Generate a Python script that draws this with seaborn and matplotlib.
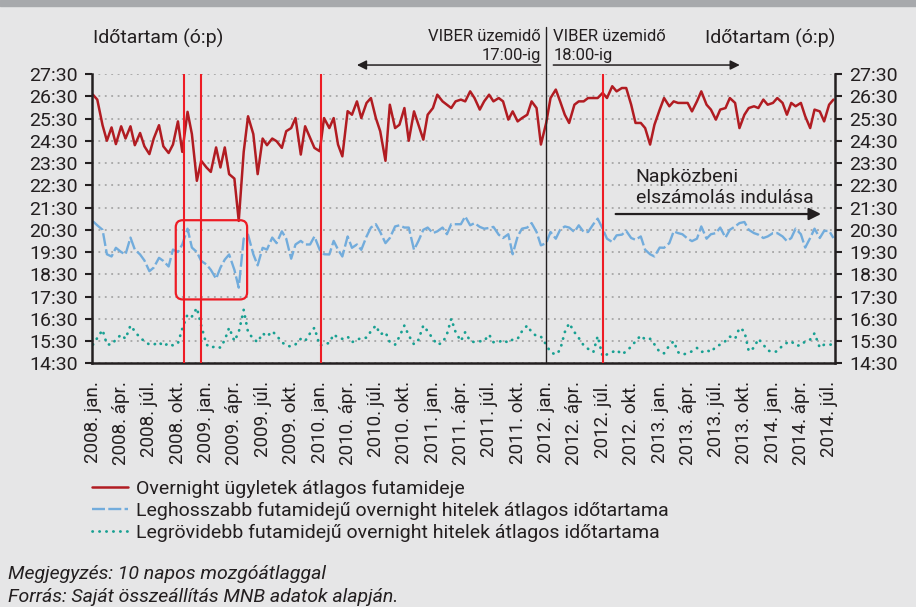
import numpy as np
import pandas as pd
import matplotlib
matplotlib.use('Agg')
import matplotlib.pyplot as plt
import matplotlib.dates as mdates
import matplotlib.patches as mpatches
from matplotlib.ticker import FuncFormatter
import seaborn as sns

# semi-monthly readings (1st and 15th of each month), values in hours
dates = pd.date_range('2008-01-01', periods=158, freq='SMS')

overnight = [
    26.57, 26.35, 25.2, 24.5, 25.1, 24.35, 25.15, 24.6, 25.15, 24.3, 24.85, 24.25, 23.9,
    24.6, 25.2, 24.25, 23.95, 24.33, 25.37, 24.0, 25.8, 24.8, 22.7, 23.6, 23.3, 23.1,
    24.2, 23.3, 24.2, 23.0, 22.8, 20.9, 24.0, 25.6, 24.8, 23.0, 24.6, 24.3, 24.6,
    24.48, 24.18, 24.93, 25.07, 25.52, 23.88, 25.15, 24.63, 24.18, 24.03, 25.52, 25.07,
    25.52, 24.33, 23.8, 25.83, 25.67, 26.27, 25.52, 26.2, 26.42, 25.52, 24.93, 23.6,
    26.12, 25.07, 25.22, 25.97, 24.5, 25.82, 25.22, 24.55, 25.67, 25.97, 26.57, 26.27,
    26.12, 25.97, 26.27, 26.35, 26.27,
    26.72, 26.42, 25.9, 26.27, 26.57, 26.27, 26.42, 26.27, 25.45, 25.82, 25.37, 25.52,
    25.67, 26.27, 25.97, 24.33, 25.3, 26.42, 26.8, 26.27, 25.67, 25.3, 26.12, 26.27,
    26.27, 26.42, 26.42, 26.42, 26.65, 26.42, 26.95, 26.72, 26.87, 26.87, 26.12, 25.3,
    25.3, 25.07, 24.33, 25.22,
    25.9, 26.42, 26.05, 26.27, 26.2, 26.2, 26.2, 25.82, 26.27, 26.72, 26.12, 25.9, 25.45,
    25.9, 25.97, 26.42, 26.2, 25.07, 25.67, 25.97, 26.05, 25.97, 26.35, 26.12, 26.2,
    26.42, 26.2, 25.67, 26.2, 26.05, 26.2, 25.6, 25.07, 25.9, 25.82, 25.37, 26.12, 26.35,
]

longest = [
    20.88, 20.7, 20.5, 19.4, 19.3, 19.69, 19.5, 19.39, 20.15, 19.61, 19.39, 19.12, 18.64,
    18.8, 19.24, 19.1, 18.85, 19.61, 19.5, 19.84, 20.55, 19.7, 19.5, 19.1, 18.94, 18.7,
    18.3, 18.8, 19.16, 19.39, 18.7, 17.9, 20.1, 20.28, 19.4, 18.9, 19.69, 19.61, 20.15,
    19.9, 20.43, 20.1, 19.2, 19.84, 20.0, 19.84, 19.84, 20.2, 19.6, 19.4, 19.39, 20.0,
    19.61, 19.3, 20.2, 19.69, 19.84, 19.6, 20.2, 20.6, 20.75, 20.4, 19.9, 20.13, 20.65,
    20.7, 20.6, 20.6, 19.6, 19.99, 20.5, 20.6, 20.35, 20.43, 20.6, 20.3, 20.75, 20.75,
    20.75, 21.1,
    20.7, 20.8, 20.63, 20.55, 20.58, 20.63, 20.28, 20.13, 20.3, 19.4, 20.2, 20.55, 20.6,
    20.8, 20.4, 19.8, 19.9, 20.4, 20.1, 20.5, 20.65, 20.6, 20.4, 20.7, 20.4, 20.4, 20.75,
    21.0, 20.55, 20.1, 19.95, 20.25, 20.28, 20.45, 20.13, 20.05, 20.2, 19.6, 19.4, 19.3,
    19.7, 19.69, 19.9, 20.43, 20.35, 20.3, 20.1, 19.99, 20.1, 20.65, 20.1, 20.3, 20.35,
    20.6, 20.15, 20.5, 20.65, 20.8, 20.85, 20.5, 20.35, 20.28, 20.13, 20.2, 20.35, 20.35,
    20.2, 19.99, 20.13, 20.55, 20.3, 19.7, 20.13, 20.55, 20.13, 20.45, 20.45, 20.13,
]

shortest = [
    15.34, 15.64, 16.0, 15.35, 15.34, 15.57, 15.79, 15.6, 16.2, 15.94, 15.64, 15.5, 15.34,
    15.34, 15.45, 15.27, 15.4, 15.3, 15.4, 16.05, 16.7, 16.6, 16.99, 16.2, 15.34, 15.2,
    15.27, 15.2, 15.55, 16.1, 15.5, 15.9, 16.9, 15.9, 15.6, 15.45, 15.85, 15.7, 15.94,
    15.75, 15.45, 15.3, 15.25, 15.35, 15.6, 15.5, 15.85, 16.1, 15.3, 15.34, 15.42, 15.8,
    15.65, 15.6, 15.7, 15.45, 15.55, 15.64, 15.65, 15.94, 16.2, 15.8, 15.9, 15.45, 15.34,
    15.7, 16.2, 15.75, 15.35, 15.55, 16.2, 15.94, 15.6, 15.34, 15.42, 15.8, 16.5, 15.9,
    15.5, 15.9,
    15.5, 15.45, 15.49, 15.5, 15.79, 15.45, 15.45, 15.55, 15.42, 15.57, 15.6, 15.94, 16.2,
    15.9, 15.72, 15.7, 15.34, 15.0, 14.89, 15.1, 15.9, 16.3, 15.9, 15.64, 15.3, 15.15,
    15.0, 15.72, 14.8, 14.9, 15.0, 15.1, 14.9, 15.04, 15.25, 15.49, 15.75, 15.57, 15.6,
    15.35,
    15.0, 14.95, 15.3, 15.49, 15.0, 14.89, 14.95, 15.04, 15.19, 15.0, 15.1, 15.0, 15.25,
    15.34, 15.5, 15.7, 15.6, 16.09, 15.94, 15.04, 15.2, 15.6, 15.34, 15.08, 15.0, 15.04,
    15.3, 15.42, 15.49, 15.3, 15.3, 15.49, 15.57, 15.85, 15.2, 15.34, 15.34, 15.34,
]

series_labels = [
    'Overnight ügyletek átlagos futamideje',
    'Leghosszabb futamidejű overnight hitelek átlagos időtartama',
    'Legrövidebb futamidejű overnight hitelek átlagos időtartama',
]

hu_months = {1: 'jan.', 4: 'ápr.', 7: 'júl.', 10: 'okt.'}
quarter_ticks = pd.date_range('2008-01-01', '2014-07-01', freq='QS')
quarter_labels = [f'{d.year}. {hu_months[d.month]}' for d in quarter_ticks]

red_lines = ['2008-10-22', '2008-12-15', '2010-01-04', '2012-07-01']
viber_change = '2012-01-02'

BG = '#e6e6e7'
TXT = '#231f20'
RED = '#b11c22'
BLUE = '#72acdc'
TEAL = '#18a092'
VRED = '#ee1c25'

sns.set_theme(style='white')
plt.rcParams['font.family'] = ['Roboto', 'DejaVu Sans']
plt.rcParams['text.color'] = TXT

df = pd.DataFrame({'date': dates, 'overnight': overnight,
                   'longest': longest, 'shortest': shortest})

fig = plt.figure(figsize=(9.16, 6.07), dpi=100, facecolor=BG)
fig.patches.append(mpatches.Rectangle((0, 1 - 6 / 607), 1, 6 / 607,
                                      transform=fig.transFigure,
                                      color='#a7a9ac', zorder=0))
ax = fig.add_axes([92 / 916, (607 - 363.3) / 607, 743 / 916, 289.3 / 607])
ax.set_facecolor(BG)

sns.lineplot(data=df, x='date', y='overnight', ax=ax, color=RED, lw=1.8,
             estimator=None, label=series_labels[0], zorder=2)
sns.lineplot(data=df, x='date', y='longest', ax=ax, color=BLUE, lw=1.7,
             estimator=None, label=series_labels[1], linestyle=(0, (5.5, 1.4)),
             zorder=2)
sns.lineplot(data=df, x='date', y='shortest', ax=ax, color=TEAL, lw=2.0,
             estimator=None, label=series_labels[2], linestyle=(0, (0.1, 2.4)),
             dash_capstyle='round', zorder=2)

x0 = pd.Timestamp('2007-12-29')
x1 = pd.Timestamp('2014-07-20')
ax.set_xlim(x0, x1)
ax.set_ylim(14.5, 27.5)
ax.set_xlabel('')
ax.set_ylabel('')

ax.set_yticks(np.arange(14.5, 27.6, 1.0))
ax.yaxis.set_major_formatter(FuncFormatter(
    lambda v, p: f'{int(v)}:{int(round((v % 1) * 60)):02d}'))
ax.set_xticks(quarter_ticks)
ax.set_xticklabels(quarter_labels)

ax.yaxis.grid(True, linestyle=(0, (1.2, 3)), color='#9b9b9b', lw=1.1)
ax.xaxis.grid(False)

ax.tick_params(axis='x', direction='out', length=6, width=1.5, pad=7,
               labelsize=13.5, labelrotation=90, colors=TXT)
ax.tick_params(axis='y', left=True, right=True, labelleft=True, labelright=True,
               direction='out', length=5, width=1.5, pad=5, labelsize=14,
               colors=TXT)
ax.spines['top'].set_visible(False)
for s in ['left', 'right', 'bottom']:
    ax.spines[s].set_linewidth(1.8)
    ax.spines[s].set_color(TXT)

# event markers
for d in red_lines:
    ax.axvline(pd.Timestamp(d), color=VRED, lw=1.5, zorder=3)
ax.axvline(pd.Timestamp(viber_change), ymin=0, ymax=1.162, clip_on=False,
           color=TXT, lw=1.0, zorder=3)

# highlight box around the 2008-09 crisis period
xl = mdates.date2num(x0)
xr = mdates.date2num(x1)
bx0 = (mdates.date2num(pd.Timestamp('2008-09-24')) - xl) / (xr - xl)
bx1 = (mdates.date2num(pd.Timestamp('2009-05-12')) - xl) / (xr - xl)
by0 = (17.37 - 14.5) / 13
by1 = (20.93 - 14.5) / 13
ax.add_patch(mpatches.FancyBboxPatch(
    (bx0, by0), bx1 - bx0, by1 - by0,
    boxstyle='round,pad=0,rounding_size=0.0095', mutation_aspect=743 / 289.3,
    transform=ax.transAxes, fill=False, ec=VRED, lw=1.6, zorder=4))

# VIBER annotations
left_end = pd.Timestamp('2011-12-14')
right_start = pd.Timestamp('2012-01-24')
ax.annotate('', xy=(pd.Timestamp('2010-05-01'), 1.031), xycoords=('data', 'axes fraction'),
            xytext=(left_end, 1.031), textcoords=('data', 'axes fraction'),
            arrowprops=dict(arrowstyle='-|>', color=TXT, lw=1.1,
                            mutation_scale=14, shrinkA=0, shrinkB=0))
ax.annotate('', xy=(pd.Timestamp('2013-09-16'), 1.031), xycoords=('data', 'axes fraction'),
            xytext=(right_start, 1.031), textcoords=('data', 'axes fraction'),
            arrowprops=dict(arrowstyle='-|>', color=TXT, lw=1.1,
                            mutation_scale=14, shrinkA=0, shrinkB=0))
trans = ax.get_xaxis_transform()
ax.text(left_end, 1.114, 'VIBER üzemidő', transform=trans, ha='right',
        va='baseline', fontsize=12)
ax.text(left_end, 1.047, '17:00-ig', transform=trans, ha='right',
        va='baseline', fontsize=12)
ax.text(right_start, 1.114, 'VIBER üzemidő', transform=trans, ha='left',
        va='baseline', fontsize=12)
ax.text(right_start, 1.047, '18:00-ig', transform=trans, ha='left',
        va='baseline', fontsize=12)

# intraday settlement annotation
ax.annotate('', xy=(pd.Timestamp('2014-06-05'), 0.516), xycoords=('data', 'axes fraction'),
            xytext=(pd.Timestamp('2012-08-12'), 0.516), textcoords=('data', 'axes fraction'),
            arrowprops=dict(arrowstyle='-|>', color=TXT, lw=1.6,
                            mutation_scale=18, shrinkA=0, shrinkB=0))
ax.text(pd.Timestamp('2012-10-16'), 0.627, 'Napközbeni', transform=trans,
        ha='left', va='baseline', fontsize=14)
ax.text(pd.Timestamp('2012-10-16'), 0.554, 'elszámolás indulása', transform=trans,
        ha='left', va='baseline', fontsize=14)

# axis titles
fig.text(93 / 916, 1 - 44 / 607, 'Időtartam (ó:p)', ha='left', va='baseline',
         fontsize=14)
fig.text(835 / 916, 1 - 44 / 607, 'Időtartam (ó:p)', ha='right', va='baseline',
         fontsize=14)

handles, labels = ax.get_legend_handles_labels()
ax.legend(handles, labels, loc='upper left', bbox_to_anchor=(92 / 916, 1 - 480 / 607),
          bbox_transform=fig.transFigure, frameon=False, fontsize=14,
          handlelength=1.85, handletextpad=0.4, labelspacing=0.19,
          borderpad=0, borderaxespad=0)

fig.text(8 / 916, 1 - 579 / 607, 'Megjegyzés: 10 napos mozgóátlaggal',
         ha='left', va='baseline', fontsize=14, style='italic')
fig.text(8 / 916, 1 - 602 / 607, 'Forrás: Saját összeállítás MNB adatok alapján.',
         ha='left', va='baseline', fontsize=14, style='italic')

fig.savefig('out.png', dpi=100, facecolor=BG)
